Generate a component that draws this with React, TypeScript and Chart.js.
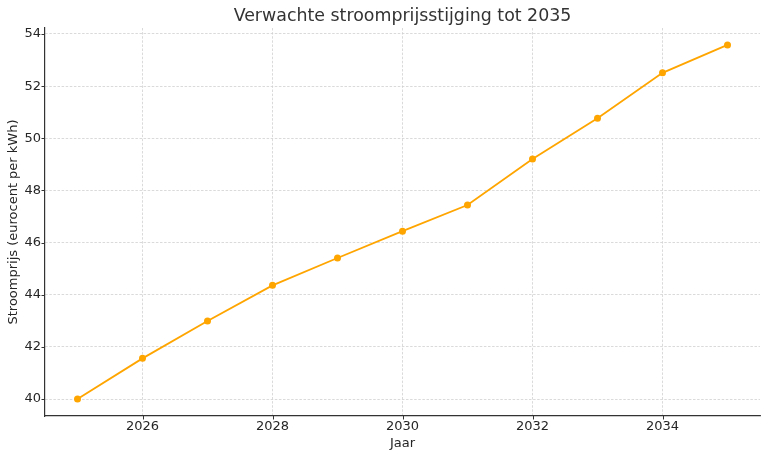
import { useEffect, useRef } from 'react'
import { Chart, registerables } from 'chart.js'

Chart.register(...registerables)

const years = [2025, 2026, 2027, 2028, 2029, 2030, 2031, 2032, 2033, 2034, 2035]
const prices = [40.0, 41.56, 42.99, 44.36, 45.41, 46.44, 47.44, 49.21, 50.77, 52.51, 53.58]
const xTicks = [2026, 2028, 2030, 2032, 2034]
const yTicks = [40, 42, 44, 46, 48, 50, 52, 54]

const titleText = 'Verwachte stroomprijsstijging tot 2035'
const FONT = '"DejaVu Sans", sans-serif'
const TEXT = '#262626'

// title centred over the plot area, like matplotlib does it
const axesTitle = {
  id: 'axesTitle',
  afterDraw(chart: Chart) {
    const { ctx, chartArea } = chart
    ctx.save()
    ctx.font = `17.4px ${FONT}`
    ctx.fillStyle = '#333333'
    ctx.textAlign = 'center'
    ctx.textBaseline = 'alphabetic'
    ctx.fillText(titleText, (chartArea.left + chartArea.right) / 2, 21)
    ctx.restore()
  },
}

// small outward tick marks on the left and bottom spines
const tickMarks = {
  id: 'tickMarks',
  afterDraw(chart: Chart) {
    const { ctx, chartArea, scales } = chart
    ctx.save()
    ctx.strokeStyle = '#333333'
    ctx.lineWidth = 1
    ctx.beginPath()
    xTicks.forEach((t) => {
      const px = Math.round(scales.x.getPixelForValue(t)) + 0.5
      ctx.moveTo(px, chartArea.bottom)
      ctx.lineTo(px, chartArea.bottom + 3.5)
    })
    yTicks.forEach((t) => {
      const py = Math.round(scales.y.getPixelForValue(t)) + 0.5
      ctx.moveTo(chartArea.left, py)
      ctx.lineTo(chartArea.left - 3.5, py)
    })
    ctx.stroke()
    ctx.restore()
  },
}

const App = () => {
  const canvasRef = useRef<HTMLCanvasElement>(null)
  const chartRef = useRef<Chart | null>(null)

  useEffect(() => {
    document.body.style.margin = '0'
    chartRef.current?.destroy()
    if (!canvasRef.current) return

    chartRef.current = new Chart(canvasRef.current, {
      type: 'line',
      data: {
        datasets: [
          {
            data: years.map((y, i) => ({ x: y, y: prices[i] })),
            borderColor: '#FFA500',
            backgroundColor: '#FFA500',
            borderWidth: 1.8,
            pointRadius: 3.5,
            pointBorderWidth: 0,
            tension: 0,
          },
        ],
      },
      options: {
        animation: false,
        responsive: false,
        maintainAspectRatio: false,
        layout: { padding: { top: 28, right: 8, left: 0, bottom: 0 } },
        plugins: {
          legend: { display: false },
          title: { display: false },
          tooltip: { enabled: false },
        },
        scales: {
          x: {
            type: 'linear',
            min: 2024.5,
            max: 2035.5,
            afterBuildTicks: (axis) => {
              axis.ticks = xTicks.map((v) => ({ value: v }))
            },
            afterFit: (axis) => {
              axis.height = 42
            },
            ticks: {
              color: TEXT,
              font: { family: FONT, size: 13 },
              padding: 3,
              maxRotation: 0,
              callback: (v) => String(v),
            },
            grid: { color: '#d0d0d0', drawTicks: false, lineWidth: 0.8 },
            border: { display: true, color: '#333333', width: 1.2, dash: [2.5, 1.6] },
            title: {
              display: true,
              text: 'Jaar',
              color: TEXT,
              font: { family: FONT, size: 13 },
              padding: { top: 0, bottom: 7 },
            },
          },
          y: {
            type: 'linear',
            min: 39.35,
            max: 54.23,
            afterBuildTicks: (axis) => {
              axis.ticks = yTicks.map((v) => ({ value: v }))
            },
            afterFit: (axis) => {
              axis.width = 45
            },
            ticks: {
              color: TEXT,
              font: { family: FONT, size: 13 },
              padding: 4,
            },
            grid: { color: '#d0d0d0', drawTicks: false, lineWidth: 0.8 },
            border: { display: true, color: '#333333', width: 1.2, dash: [2.5, 1.6] },
            title: {
              display: true,
              text: 'Stroomprijs (eurocent per kWh)',
              color: TEXT,
              font: { family: FONT, size: 13 },
              padding: { top: 6, bottom: 0 },
            },
          },
        },
      },
      plugins: [axesTitle, tickMarks],
    })

    return () => {
      chartRef.current?.destroy()
      chartRef.current = null
    }
  }, [])

  return (
    <div style={{ width: 768, height: 458 }}>
      <canvas ref={canvasRef} width={768} height={458} style={{ width: 768, height: 458 }} />
    </div>
  )
}

export default App
